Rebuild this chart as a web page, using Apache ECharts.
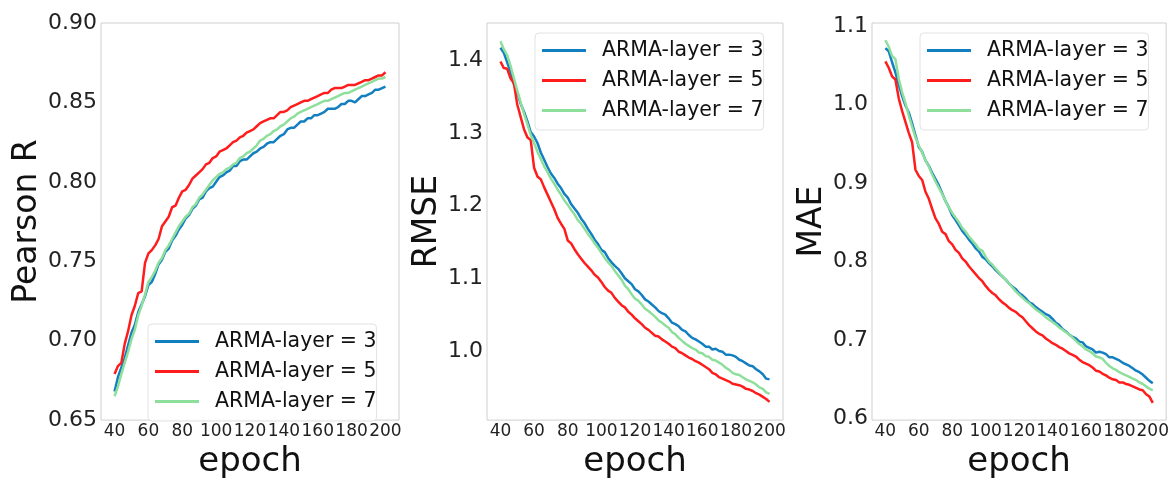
<!DOCTYPE html>
<html>
<head>
<meta charset="utf-8">
<script src="https://cdn.jsdelivr.net/npm/echarts@6/dist/echarts.min.js"></script>
<style>
  html, body { margin: 0; padding: 0; background: #fff; }
  #chart { width: 1172px; height: 484px; }
</style>
</head>
<body>
<div id="chart"></div>
<script>
const epochs = [40, 42, 44, 46, 48, 50, 52, 54, 56, 58, 60, 62, 64, 66, 68, 70, 72, 74, 76, 78, 80,
  82, 84, 86, 88, 90, 92, 94, 96, 98, 100, 102, 104, 106, 108, 110, 112, 114, 116, 118, 120,
  122, 124, 126, 128, 130, 132, 134, 136, 138, 140, 142, 144, 146, 148, 150, 152, 154, 156, 158, 160,
  162, 164, 166, 168, 170, 172, 174, 176, 178, 180, 182, 184, 186, 188, 190, 192, 194, 196, 198, 200];
const xTicks = [40, 60, 80, 100, 120, 140, 160, 180, 200];
const seriesNames = ["ARMA-layer = 3", "ARMA-layer = 5", "ARMA-layer = 7"];

// Pearson R
const pearson3 = [0.668, 0.677, 0.683, 0.689, 0.697, 0.705, 0.710, 0.718, 0.723, 0.728, 0.735, 0.737, 0.742, 0.748,
  0.751, 0.756, 0.758, 0.763, 0.766, 0.770, 0.773, 0.777, 0.779, 0.783, 0.785, 0.789, 0.790, 0.794, 0.796, 0.797,
  0.800, 0.803, 0.804, 0.806, 0.807, 0.810, 0.810, 0.813, 0.814, 0.814, 0.816, 0.818, 0.819, 0.821, 0.822, 0.824,
  0.825, 0.825, 0.827, 0.829, 0.830, 0.833, 0.834, 0.834, 0.836, 0.838, 0.838, 0.840, 0.840, 0.842, 0.842, 0.843,
  0.844, 0.846, 0.846, 0.846, 0.847, 0.849, 0.849, 0.851, 0.851, 0.850, 0.852, 0.854, 0.854, 0.855, 0.856, 0.858,
  0.858, 0.859, 0.860];
const pearson5 = [0.679, 0.684, 0.686, 0.698, 0.706, 0.716, 0.722, 0.730, 0.731, 0.749, 0.755, 0.757, 0.760, 0.764,
  0.772, 0.775, 0.778, 0.784, 0.785, 0.790, 0.794, 0.795, 0.798, 0.802, 0.804, 0.806, 0.808, 0.811, 0.812, 0.815,
  0.816, 0.819, 0.820, 0.821, 0.823, 0.825, 0.826, 0.828, 0.829, 0.831, 0.832, 0.833, 0.835, 0.837, 0.838, 0.839,
  0.840, 0.840, 0.842, 0.844, 0.844, 0.845, 0.847, 0.848, 0.849, 0.850, 0.851, 0.851, 0.852, 0.853, 0.854, 0.855,
  0.856, 0.856, 0.858, 0.859, 0.859, 0.859, 0.860, 0.861, 0.861, 0.861, 0.862, 0.863, 0.864, 0.864, 0.865, 0.866,
  0.867, 0.867, 0.869];
const pearson7 = [0.665, 0.671, 0.679, 0.686, 0.693, 0.701, 0.707, 0.716, 0.722, 0.729, 0.737, 0.740, 0.744, 0.749,
  0.752, 0.757, 0.760, 0.764, 0.768, 0.772, 0.775, 0.778, 0.780, 0.784, 0.786, 0.790, 0.792, 0.795, 0.798, 0.801,
  0.803, 0.805, 0.806, 0.808, 0.809, 0.811, 0.812, 0.815, 0.816, 0.818, 0.819, 0.821, 0.823, 0.826, 0.827, 0.829,
  0.830, 0.832, 0.833, 0.835, 0.836, 0.838, 0.840, 0.841, 0.843, 0.844, 0.845, 0.846, 0.847, 0.848, 0.849, 0.850,
  0.851, 0.851, 0.852, 0.853, 0.854, 0.855, 0.856, 0.856, 0.857, 0.858, 0.859, 0.860, 0.861, 0.862, 0.863, 0.864,
  0.865, 0.865, 0.866];

// RMSE
const rmse3 = [1.417, 1.410, 1.397, 1.384, 1.367, 1.356, 1.340, 1.329, 1.316, 1.301, 1.295, 1.286, 1.273, 1.263,
  1.253, 1.244, 1.238, 1.230, 1.224, 1.216, 1.211, 1.202, 1.196, 1.190, 1.182, 1.176, 1.168, 1.161, 1.153, 1.147,
  1.139, 1.136, 1.128, 1.122, 1.117, 1.113, 1.107, 1.100, 1.096, 1.092, 1.085, 1.082, 1.077, 1.071, 1.068, 1.064,
  1.060, 1.055, 1.052, 1.050, 1.045, 1.039, 1.037, 1.034, 1.029, 1.027, 1.022, 1.018, 1.016, 1.013, 1.010, 1.006,
  1.006, 1.002, 1.003, 1.000, 0.999, 0.995, 0.995, 0.994, 0.992, 0.988, 0.986, 0.983, 0.980, 0.979, 0.975, 0.972,
  0.968, 0.962, 0.961];
const rmse5 = [1.398, 1.389, 1.388, 1.375, 1.368, 1.339, 1.322, 1.305, 1.294, 1.290, 1.252, 1.240, 1.236, 1.225,
  1.215, 1.205, 1.195, 1.183, 1.175, 1.168, 1.152, 1.148, 1.140, 1.133, 1.127, 1.121, 1.116, 1.111, 1.105, 1.101,
  1.095, 1.088, 1.083, 1.080, 1.073, 1.068, 1.063, 1.060, 1.054, 1.050, 1.045, 1.041, 1.037, 1.032, 1.029, 1.025,
  1.021, 1.020, 1.016, 1.013, 1.010, 1.006, 1.004, 0.999, 0.997, 0.994, 0.991, 0.989, 0.986, 0.984, 0.981, 0.978,
  0.975, 0.970, 0.968, 0.964, 0.962, 0.960, 0.958, 0.955, 0.954, 0.953, 0.951, 0.948, 0.947, 0.945, 0.942, 0.940,
  0.937, 0.934, 0.930];
const rmse7 = [1.426, 1.415, 1.407, 1.392, 1.375, 1.358, 1.342, 1.326, 1.312, 1.297, 1.286, 1.274, 1.264, 1.254,
  1.246, 1.237, 1.230, 1.222, 1.215, 1.207, 1.201, 1.194, 1.188, 1.180, 1.175, 1.168, 1.161, 1.155, 1.148, 1.142,
  1.135, 1.128, 1.122, 1.117, 1.110, 1.104, 1.098, 1.090, 1.085, 1.078, 1.072, 1.069, 1.064, 1.058, 1.055, 1.051,
  1.047, 1.042, 1.039, 1.035, 1.032, 1.026, 1.023, 1.018, 1.014, 1.010, 1.007, 1.004, 1.002, 0.998, 0.997, 0.993,
  0.992, 0.988, 0.987, 0.984, 0.981, 0.977, 0.974, 0.970, 0.968, 0.967, 0.964, 0.961, 0.959, 0.957, 0.954, 0.950,
  0.948, 0.943, 0.941];

// MAE
const mae3 = [1.072, 1.068, 1.054, 1.041, 1.025, 1.011, 0.999, 0.990, 0.976, 0.961, 0.946, 0.940, 0.929, 0.922,
  0.913, 0.905, 0.897, 0.887, 0.877, 0.869, 0.859, 0.853, 0.846, 0.839, 0.834, 0.828, 0.823, 0.817, 0.813, 0.806,
  0.803, 0.798, 0.794, 0.789, 0.785, 0.781, 0.777, 0.772, 0.768, 0.765, 0.760, 0.757, 0.753, 0.748, 0.746, 0.742,
  0.739, 0.736, 0.733, 0.731, 0.727, 0.722, 0.719, 0.714, 0.711, 0.707, 0.704, 0.702, 0.698, 0.697, 0.692, 0.690,
  0.688, 0.684, 0.685, 0.684, 0.682, 0.678, 0.678, 0.676, 0.674, 0.671, 0.669, 0.667, 0.664, 0.661, 0.659, 0.656,
  0.652, 0.648, 0.645];
const mae5 = [1.055, 1.047, 1.036, 1.032, 1.008, 0.992, 0.978, 0.964, 0.952, 0.917, 0.909, 0.904, 0.889, 0.880,
  0.867, 0.855, 0.848, 0.838, 0.835, 0.826, 0.822, 0.815, 0.811, 0.804, 0.800, 0.794, 0.789, 0.784, 0.779, 0.775,
  0.769, 0.764, 0.760, 0.757, 0.752, 0.748, 0.745, 0.741, 0.738, 0.736, 0.732, 0.729, 0.724, 0.719, 0.715, 0.711,
  0.708, 0.706, 0.702, 0.699, 0.696, 0.694, 0.691, 0.689, 0.686, 0.683, 0.681, 0.679, 0.675, 0.672, 0.670, 0.668,
  0.665, 0.661, 0.660, 0.657, 0.655, 0.652, 0.650, 0.649, 0.646, 0.646, 0.644, 0.643, 0.641, 0.639, 0.637, 0.636,
  0.631, 0.628, 0.620];
const mae7 = [1.082, 1.074, 1.062, 1.058, 1.033, 1.016, 1.002, 0.986, 0.972, 0.958, 0.948, 0.939, 0.929, 0.921,
  0.911, 0.902, 0.894, 0.886, 0.877, 0.869, 0.862, 0.856, 0.850, 0.843, 0.838, 0.832, 0.827, 0.822, 0.816, 0.814,
  0.806, 0.800, 0.796, 0.791, 0.786, 0.781, 0.777, 0.772, 0.767, 0.762, 0.758, 0.754, 0.750, 0.747, 0.743, 0.739,
  0.736, 0.733, 0.729, 0.726, 0.723, 0.720, 0.716, 0.713, 0.710, 0.707, 0.703, 0.699, 0.695, 0.692, 0.688, 0.686,
  0.683, 0.679, 0.678, 0.676, 0.671, 0.667, 0.664, 0.662, 0.659, 0.657, 0.655, 0.653, 0.651, 0.649, 0.646, 0.644,
  0.641, 0.638, 0.636];

const pearsonTicks = [0.65, 0.70, 0.75, 0.80, 0.85, 0.90];
const rmseTicks = [1.0, 1.1, 1.2, 1.3, 1.4];
const maeTicks = [0.6, 0.7, 0.8, 0.9, 1.0, 1.1];

const colors = ["#137fc1", "#ff1c1c", "#8fdf9c"];
const font = "DejaVu Sans";

const panels = [
  { title: "Pearson R", data: [pearson3, pearson5, pearson7], ticks: pearsonTicks, digits: 2,
    min: 0.65, max: 0.90, left: 101, width: 298, nameGap: 55, legend: { left: 148, top: 324 } },
  { title: "RMSE", data: [rmse3, rmse5, rmse7], ticks: rmseTicks, digits: 1,
    min: 0.905, max: 1.451, left: 487, width: 296, nameGap: 35, legend: { left: 535, top: 33 } },
  { title: "MAE", data: [mae3, mae5, mae7], ticks: maeTicks, digits: 1,
    min: 0.598, max: 1.104, left: 872, width: 298, nameGap: 35, legend: { left: 920, top: 33 } },
];

const chart = echarts.init(document.getElementById("chart"));

const option = {
  animation: false,
  backgroundColor: "#fff",
  textStyle: { fontFamily: font },
  grid: panels.map(p => ({
    left: p.left, top: 23, width: p.width, height: 409,
    show: true, borderColor: "#cfcfcf", borderWidth: 1, backgroundColor: "transparent",
  })),
  xAxis: panels.map((p, i) => ({
    type: "value", gridIndex: i, min: 32, max: 208,
    name: "epoch", nameLocation: "middle", nameGap: 16,
    nameTextStyle: { fontSize: 34, color: "#111", fontFamily: font },
    axisLine: { show: false },
    axisTick: { show: false, customValues: xTicks },
    splitLine: { show: false },
    axisLabel: {
      customValues: xTicks, fontSize: 17, color: "#222", margin: 3, fontFamily: font,
      showMinLabel: true, showMaxLabel: true, hideOverlap: false,
    },
  })),
  yAxis: panels.map((p, i) => ({
    type: "value", gridIndex: i, min: p.min, max: p.max,
    name: p.title, nameLocation: "middle", nameGap: p.nameGap,
    nameTextStyle: { fontSize: 33, color: "#111", fontFamily: font },
    axisLine: { show: false },
    axisTick: { show: false, customValues: p.ticks },
    splitLine: { show: false },
    axisLabel: {
      customValues: p.ticks, fontSize: 22, color: "#222", margin: 4, fontFamily: font,
      showMinLabel: true, showMaxLabel: true,
      formatter: v => v.toFixed(p.digits),
    },
  })),
  legend: panels.map(p => ({
    left: p.legend.left, top: p.legend.top, orient: "vertical",
    data: seriesNames.map((n, k) => ({ name: n, itemStyle: { color: colors[k] } })),
    icon: "rect",
    itemWidth: 44, itemHeight: 3, itemGap: 9,
    padding: [7, 0, 9, 7],
    backgroundColor: "rgba(255,255,255,0.85)",
    borderColor: "#e2e2e2", borderWidth: 1, borderRadius: 4,
    selectedMode: false,
    formatter: name => "{n|" + name + "}",
    textStyle: {
      fontSize: 20.5, color: "#111", fontFamily: font,
      rich: { n: { fontSize: 20.5, color: "#111", padding: [0, 0, 0, 11], fontFamily: font } },
    },
  })),
  series: panels.flatMap((p, i) => p.data.map((vals, k) => ({
    type: "line", name: seriesNames[k], xAxisIndex: i, yAxisIndex: i,
    data: epochs.map((e, j) => [e, vals[j]]),
    symbol: "none", smooth: false,
    lineStyle: { width: 2.5, color: colors[k] },
    itemStyle: { color: colors[k] },
    z: 2 + k,
  }))),
};

chart.setOption(option);
</script>
</body>
</html>
